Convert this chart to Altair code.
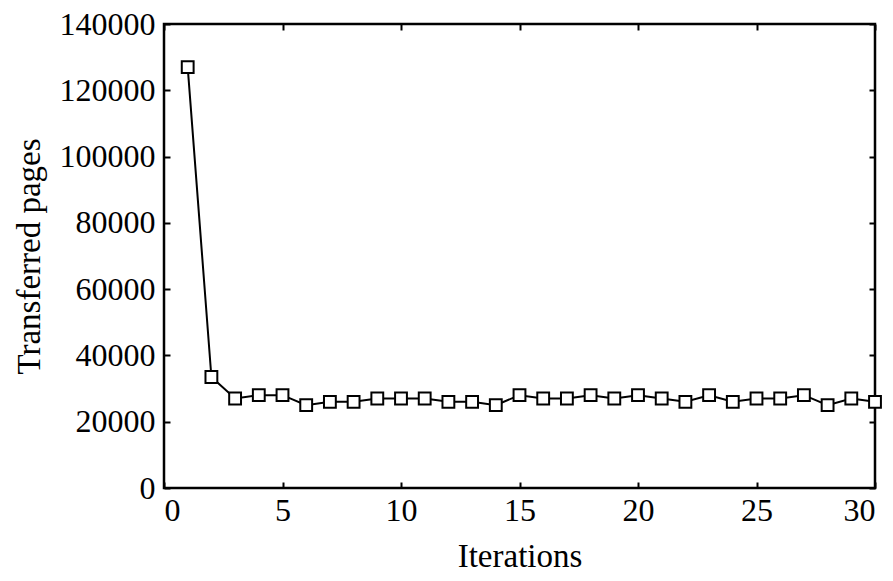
import altair as alt
import pandas as pd

iterations = list(range(1, 31))
pages = [127000, 33500, 27000, 28000, 28000, 25000, 26000, 26000, 27000, 27000,
         27000, 26000, 26000, 25000, 28000, 27000, 27000, 28000, 27000, 28000,
         27000, 26000, 28000, 26000, 27000, 27000, 28000, 25000, 27000, 26000]
x_ticks = [0, 5, 10, 15, 20, 25, 30]
y_ticks = [0, 20000, 40000, 60000, 80000, 100000, 120000, 140000]

df = pd.DataFrame({"it": iterations, "pages": pages})

FONT = "Liberation Serif"
FS = 32
TS = 6

xs = alt.Scale(domain=[0, 30], nice=False)
ys = alt.Scale(domain=[0, 140000], nice=False)

x_bottom = alt.X("it:Q", scale=xs, title="Iterations",
                 axis=alt.Axis(values=x_ticks, format="d", grid=False, domain=False, tickSize=TS, offset=-TS,
                               tickWidth=2, tickColor="black", labelPadding=7,
                               labelFont=FONT, labelFontSize=FS, labelColor="black",
                               titleFont=FONT, titleFontSize=33, titleFontWeight="normal",
                               titleColor="black", titlePadding=14))
y_left = alt.Y("pages:Q", scale=ys, title="Transferred pages",
               axis=alt.Axis(values=y_ticks, format="d", grid=False, domain=False, tickSize=TS, offset=-TS,
                             tickWidth=2, tickColor="black", labelPadding=9,
                             labelFont=FONT, labelFontSize=FS, labelColor="black",
                             titleFont=FONT, titleFontSize=33, titleFontWeight="normal",
                             titleColor="black", titlePadding=13))

line = alt.Chart(df).mark_line(color="black", strokeWidth=2).encode(x=x_bottom, y=y_left)
pts = alt.Chart(df).mark_point(shape="square", size=140, filled=False, color="black",
                               fill="white", fillOpacity=1, strokeWidth=2, opacity=1).encode(
    x=alt.X("it:Q", scale=xs, axis=alt.Axis(orient="top", values=x_ticks, grid=False, domain=False,
                                            labels=False, title=None, tickSize=TS, offset=-TS,
                                            tickWidth=2, tickColor="black")),
    y=alt.Y("pages:Q", scale=ys, axis=alt.Axis(orient="right", values=y_ticks, grid=False, domain=False,
                                               labels=False, title=None, tickSize=TS, offset=-TS,
                                               tickWidth=2, tickColor="black")),
)

chart = alt.layer(line, pts).resolve_axis(x="independent", y="independent").properties(
    width=711, height=464,
    autosize=alt.AutoSizeParams(type="none"),
    padding={"left": 156, "top": 16, "right": 10, "bottom": 92},
    background="white",
).configure_view(stroke="black", strokeWidth=2.5, strokeOpacity=1)

chart.save("out.html", embed_options={"renderer": "svg", "actions": False})
